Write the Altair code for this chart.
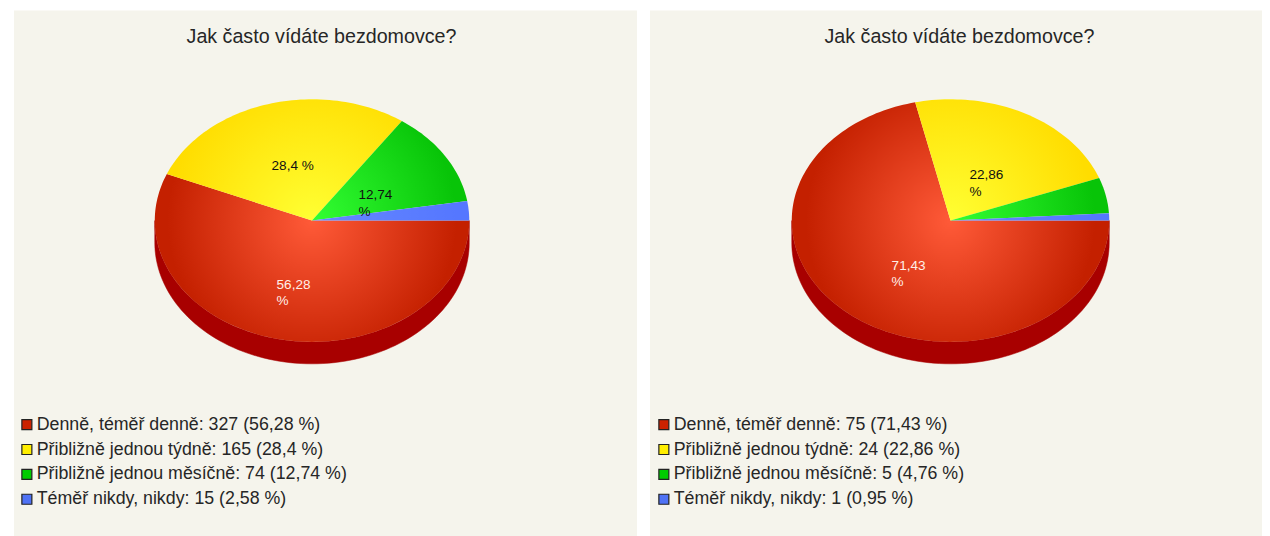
import math
import altair as alt
import pandas as pd

TITLE = "Jak často vídáte bezdomovce?"
CATEGORIES = ["Denně, téměř denně", "Přibližně jednou týdně", "Přibližně jednou měsíčně", "Téměř nikdy, nikdy"]
COUNTS_A = [327, 165, 74, 15]
PCT_A = ["56,28", "28,4", "12,74", "2,58"]
COUNTS_B = [75, 24, 5, 1]
PCT_B = ["71,43", "22,86", "4,76", "0,95"]

SWATCH = ["#CC2200", "#FFEE00", "#00CC00", "#4F72F5"]
GRAD_IN = ["#FF5A38", "#FFFF33", "#33FF33", "#6688FF"]
GRAD_OUT = ["#C42000", "#FFDD00", "#08C408", "#5577FF"]
SIDE = "#A80000"
BG = "#F5F4EC"

PH = 527


def ring(cx, cy, rx, ry, start, end, steps):
    # angles clockwise from east, in screen coordinates (y down)
    return [(cx + rx * math.cos(start + (end - start) * k / steps),
             cy + ry * math.sin(start + (end - start) * k / steps)) for k in range(steps + 1)]


def gradient(pts, cx, cy, c_in, c_out, radius=145):
    xs, ys = [p[0] for p in pts], [p[1] for p in pts]
    w, h = max(xs) - min(xs), max(ys) - min(ys)
    s = max(w, h)
    u = (cx - (min(xs) + w / 2)) / s + 0.5
    v = (cy - (min(ys) + h / 2)) / s + 0.5
    return {"gradient": "radial", "x1": u, "y1": v, "r1": 0, "x2": u, "y2": v, "r2": radius / s,
            "stops": [{"offset": 0, "color": c_in}, {"offset": 1, "color": c_out}]}


def panel(counts, pcts, pw, cx, rx, title_x, label_pos, legend_x):
    cy, ry, depth = 210.5, 121.5, 22
    X = alt.X("x:Q", axis=None, scale=alt.Scale(domain=[0, pw], nice=False, zero=False))
    Y = alt.Y("y:Q", axis=None, scale=alt.Scale(domain=[PH, 0], nice=False, zero=False))
    total = sum(counts)
    layers = []

    # side wall of the disc
    side = ring(cx, cy, rx, ry, 0, math.pi, 90) + ring(cx, cy + depth, rx, ry, math.pi, 0, 90)
    side.append(side[0])
    layers.append(alt.Chart(pd.DataFrame([{"x": p[0], "y": p[1], "i": k} for k, p in enumerate(side)]))
                  .mark_line(fill=SIDE, stroke=SIDE, strokeWidth=0.5)
                  .encode(x=X, y=Y, order="i:Q"))

    # slices run clockwise from east, in the order of the categories
    start = 0.0
    for c, n in enumerate(counts):
        end = start + 2 * math.pi * n / total
        arc = ring(cx, cy, rx, ry, start, end, max(3, int(240 * n / total)))
        poly = [(cx, cy)] + arc + [(cx, cy)]
        layers.append(alt.Chart(pd.DataFrame([{"x": p[0], "y": p[1], "i": k} for k, p in enumerate(poly)]))
                      .mark_line(fill=gradient(poly, cx, cy, GRAD_IN[c], GRAD_OUT[c]), strokeWidth=0)
                      .encode(x=X, y=Y, order="i:Q"))
        start = end

    # percentage labels on the slices
    rows = []
    for (c, lx, ly, brk) in label_pos:
        rows.append({"x": lx, "y": ly, "t": pcts[c] + ("\n" if brk else " ") + "%",
                     "col": "#FFEFE8" if c == 0 else "#111111"})
    layers.append(alt.Chart(pd.DataFrame(rows))
                  .mark_text(align="left", baseline="middle", font="Liberation Sans", fontSize=13.6,
                             lineBreak="\n", lineHeight=16.5)
                  .encode(x=X, y=Y, text="t:N", color=alt.Color("col:N", scale=None)))

    # title
    layers.append(alt.Chart(pd.DataFrame([{"x": title_x, "y": 27, "t": TITLE}]))
                  .mark_text(align="center", baseline="middle", font="Liberation Sans", fontSize=19.7, color="#262626")
                  .encode(x=X, y=Y, text="t:N"))

    # legend
    labels = [f"{cat}: {n} ({p} %)" for cat, n, p in zip(CATEGORIES, counts, pcts)]
    layers.append(alt.Chart(pd.DataFrame({"label": labels}))
                  .mark_square(opacity=0, size=1)
                  .encode(x=alt.value(0), y=alt.value(0),
                          color=alt.Color("label:N", title=None,
                                          scale=alt.Scale(domain=labels, range=SWATCH),
                                          legend=alt.Legend(orient="none", legendX=legend_x, legendY=406,
                                                            symbolType="square", symbolSize=100,
                                                            symbolOpacity=1, symbolStrokeColor="#222222",
                                                            symbolStrokeWidth=1.2, labelFont="Liberation Sans",
                                                            labelFontSize=17.8, labelColor="#262626",
                                                            labelLimit=500, rowPadding=5.9, labelOffset=1,
                                                            padding=0))))
    return alt.layer(*layers).properties(width=pw, height=PH)


left = panel(COUNTS_A, PCT_A, 624, 298.5, 157.5, 308,
             [(1, 258, 156, False), (2, 345, 185, True), (0, 263, 275, True)], 4)
right = panel(COUNTS_B, PCT_B, 613, 301, 159, 310,
              [(1, 320, 165, True), (0, 242, 256, True)], 5)

chart = (alt.hconcat(left, right, spacing=12)
         .resolve_scale(color="independent", x="independent", y="independent")
         .properties(padding={"left": 5, "top": 1, "right": 0, "bottom": 0}, background="white")
         .configure_view(fill=BG, stroke=None))

chart.save("out.html", embed_options={"renderer": "svg", "actions": False})
